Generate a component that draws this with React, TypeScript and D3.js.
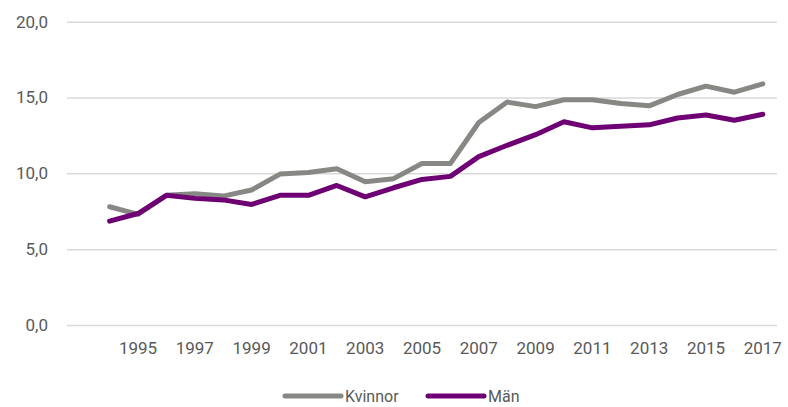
import { axisBottom, axisLeft, line, scaleBand, scaleLinear, select } from "d3";
import { useEffect, useRef } from "react";

// leading blank category leaves the empty slot before 1994
const categories = ["", "1994", "1995", "1996", "1997", "1998", "1999", "2000", "2001", "2002", "2003", "2004", "2005",
    "2006", "2007", "2008", "2009", "2010", "2011", "2012", "2013", "2014", "2015", "2016", "2017"];
const years = categories.slice(1);
const kvinnor = [7.8, 7.3, 8.55, 8.65, 8.5, 8.9, 9.95, 10.05, 10.3, 9.45, 9.65, 10.65, 10.65, 13.35, 14.7, 14.4,
    14.85, 14.85, 14.6, 14.45, 15.2, 15.75, 15.35, 15.9];
const man = [6.85, 7.35, 8.55, 8.35, 8.25, 7.95, 8.55, 8.55, 9.2, 8.45, 9.05, 9.6, 9.8, 11.1, 11.85, 12.55,
    13.4, 13.0, 13.1, 13.2, 13.65, 13.85, 13.5, 13.9];
const yTicks = [0, 5, 10, 15, 20];

const grey = "#878884";
const purple = "#6e0074";
const textColor = "#595959";

export default function App() {
    const ref = useRef<SVGSVGElement>(null);

    useEffect(() => {
        const svg = select(ref.current);
        svg.selectAll("*").remove();
        const left = 67, right = 777, top = 21.7, bottom = 325;

        const x = scaleBand().domain(categories).range([left, right]);
        const y = scaleLinear().domain([0, 20]).range([bottom, top]);
        const cx = (yr: string) => (x(yr) as number) + x.bandwidth() / 2;

        // grid + y labels
        const ya = svg.append("g")
            .attr("transform", `translate(${left},0)`)
            .call(axisLeft(y).tickValues(yTicks).tickSize(-(right - left)).tickPadding(19)
                .tickFormat((d: any) => (+d).toFixed(1).replace(".", ",")));
        ya.select(".domain").remove();
        ya.selectAll(".tick line").attr("stroke", "#d9d9d9").attr("stroke-width", 1.5);
        ya.selectAll(".tick text").attr("fill", textColor).style("font", "17px Roboto");

        // x labels, every other year
        const xa = svg.append("g")
            .attr("transform", `translate(0,${bottom})`)
            .call(axisBottom(x).tickValues(categories.filter((c, i) => c && i % 2 === 0)).tickSize(0).tickPadding(17));
        xa.select(".domain").remove();
        xa.selectAll(".tick text").attr("fill", textColor).style("font", "17px Roboto");

        const series = [
            { name: "Kvinnor", values: kvinnor, color: grey },
            { name: "Män", values: man, color: purple },
        ];
        const l = line<number>()
            .x((_, i) => cx(years[i]))
            .y(d => y(d));
        series.forEach(s => {
            svg.append("path")
                .datum(s.values)
                .attr("d", l)
                .attr("fill", "none")
                .attr("stroke", s.color)
                .attr("stroke-width", 5)
                .attr("stroke-linejoin", "round")
                .attr("stroke-linecap", "round");
        });

        // legend
        const lg = svg.append("g").attr("transform", "translate(0,396)");
        const items = [{ x: 285, ...series[0] }, { x: 428, ...series[1] }];
        items.forEach(it => {
            lg.append("line")
                .attr("x1", it.x).attr("x2", it.x + 56)
                .attr("stroke", it.color).attr("stroke-width", 5).attr("stroke-linecap", "round");
            lg.append("text")
                .attr("x", it.x + 60).attr("dy", "0.35em")
                .attr("fill", textColor).style("font", "16px Roboto")
                .text(it.name);
        });
    }, []);

    return (
        <svg ref={ref} width={788} height={407}
            style={{ position: "absolute", left: 0, top: 0, background: "#fff" }}></svg>
    );
}
